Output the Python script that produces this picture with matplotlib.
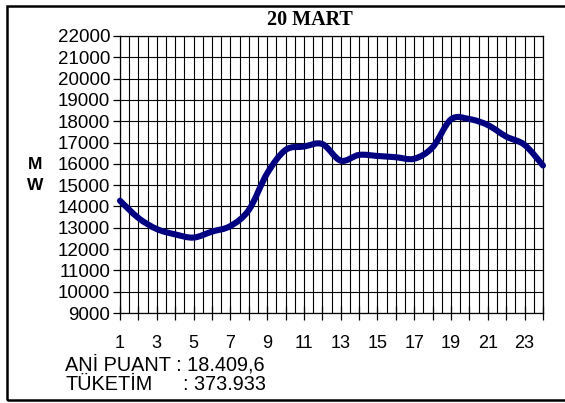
import numpy as np
import matplotlib
matplotlib.use('Agg')
import matplotlib.pyplot as plt
from matplotlib.patches import Rectangle, PathPatch
from matplotlib.path import Path

# - data - #
hours = list(range(1, 25))
load_mw = [14270, 13460, 12940, 12690, 12540, 12820, 13080, 13830,
           15550, 16650, 16810, 16930, 16150, 16420, 16370, 16310,
           16240, 16780, 18090, 18100, 17820, 17280, 16890, 15920]
y_ticks = list(range(9000, 22001, 1000))
x_labels = [str(h) for h in range(1, 25, 2)]
title = '20 MART'
note1 = 'ANİ PUANT : 18.409,6'
note2_a = 'TÜKETİM'
note2_b = ': 373.933'

plt.rcParams['font.family'] = ['Liberation Sans', 'DejaVu Sans']


def smooth_path(xs, ys):
    # Excel-style smoothed line: cubic bezier segments through every point
    pts = np.column_stack([xs, ys]).astype(float)
    verts = [pts[0]]
    codes = [Path.MOVETO]
    n = len(pts)
    for i in range(n - 1):
        p0 = pts[max(i - 1, 0)]
        p1 = pts[i]
        p2 = pts[i + 1]
        p3 = pts[min(i + 2, n - 1)]
        c1 = p1 + (p2 - p0) / 6.0
        c2 = p2 - (p3 - p1) / 6.0
        verts += [c1, c2, p2]
        codes += [Path.CURVE4] * 3
    return Path(verts, codes)


fig = plt.figure(figsize=(5.65, 4.03), dpi=100)
ax = fig.add_axes([120/565, 90/403, 423/565, 277/403])

ax.add_patch(PathPatch(smooth_path(hours, load_mw), facecolor='none',
                       edgecolor='#000080', lw=4.4, joinstyle='round',
                       capstyle='round', zorder=3, clip_on=False))

ax.set_xlim(1, 24)
ax.set_ylim(9000, 22000)
ax.set_yticks(y_ticks)
ax.set_yticklabels([str(v) for v in y_ticks], fontsize=13.5)
ax.set_xticks(hours)
ax.set_xticklabels([str(h) if h % 2 == 1 else '' for h in hours], fontsize=13)
ax.set_xticks(np.arange(1.5, 24, 1.0), minor=True)

ax.tick_params(axis='y', direction='out', length=5, width=0.9, pad=2)
ax.tick_params(axis='x', which='major', direction='inout', length=10, width=0.9, pad=11)
ax.tick_params(axis='x', which='minor', length=0)

ax.grid(True, which='both', axis='x', color='black', lw=0.8)
ax.grid(True, which='major', axis='y', color='black', lw=0.8)
for s in ax.spines.values():
    s.set_color('black')
    s.set_linewidth(0.9)

fig.text(310/565, 1 - 20/403, title, fontsize=14.5, fontweight='bold',
         family='Liberation Serif', ha='center', va='center')
fig.text(35/565, 1 - 164/403, 'M', fontsize=12.5, fontweight='bold', ha='center', va='center')
fig.text(35/565, 1 - 185/403, 'W', fontsize=12.5, fontweight='bold', ha='center', va='center')

fig.text(65/565, 1 - 365/403, note1, fontsize=14.3, ha='left', va='center')
fig.text(65/565, 1 - 385/403, note2_a, fontsize=14.3, ha='left', va='center')
fig.text(183/565, 1 - 385/403, note2_b, fontsize=14.3, ha='left', va='center')

# outer frame (right side falls outside the picture)
fig.patches.append(Rectangle((7/565, 3/403), 600/565, 394/403, transform=fig.transFigure,
                             fill=False, edgecolor='black', lw=1.8))

fig.savefig('out.png', dpi=100)
